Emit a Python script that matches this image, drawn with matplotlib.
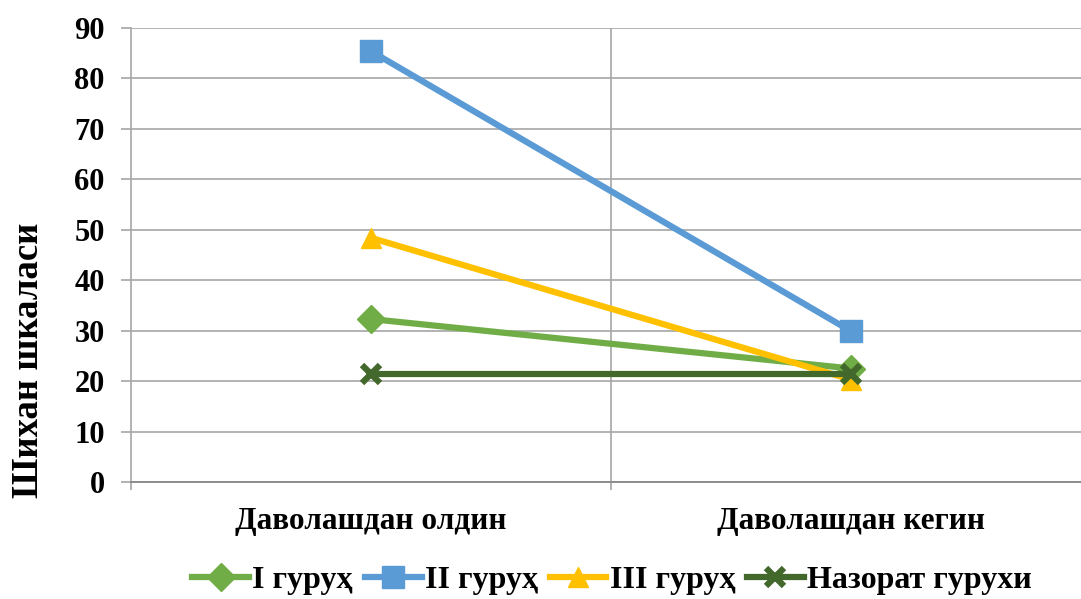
import matplotlib
matplotlib.use("Agg")
import matplotlib.pyplot as plt
from matplotlib.lines import Line2D

categories = ["Даволашдан олдин", "Даволашдан кегин"]
series_names = ["I гуруҳ", "II гуруҳ", "III гуруҳ", "Назорат гурухи"]
group1 = [32.3, 22.5]
group2 = [85.4, 29.9]
group3 = [48.4, 20.3]
control = [21.4, 21.4]
y_ticks = [0, 10, 20, 30, 40, 50, 60, 70, 80, 90]

colors = ["#70AD47", "#5B9BD5", "#FFC000", "#43682B"]
markers = ["D", "s", "^", "x"]
msizes = [14, 16.5, 14, 13]

plt.rcParams['font.family'] = ['Liberation Serif', 'DejaVu Serif']
plt.rcParams['font.weight'] = 'bold'

fig = plt.figure(figsize=(10.81, 5.99), dpi=100)
ax = fig.add_axes([131/1081, 1 - 482/599, 960/1081, 454/599])

xs = [0.5, 1.5]
data = [group1, group2, group3, control]
for vals, c, m, ms, name in zip(data, colors, markers, msizes, series_names):
    ax.plot(xs, vals, color=c, lw=4.5, marker=m, markersize=ms,
            markeredgewidth=4.5 if m == "x" else 1, markeredgecolor=c,
            markerfacecolor=c, label=name, solid_capstyle='round', zorder=3)

ax.set_xlim(0, 2)
ax.set_ylim(0, 90)
ax.set_yticks(y_ticks)
ax.set_yticklabels([str(v) for v in y_ticks], fontsize=22, fontweight='bold')
ax.set_xticks([0, 1, 2])
ax.set_xticklabels([])
ax.set_xticks(xs, minor=True)
ax.set_xticklabels(categories, minor=True, fontsize=22.5, fontweight='bold')
ax.tick_params(axis='x', which='minor', length=0, pad=18)
ax.tick_params(axis='x', which='major', length=6, color='#A6A6A6', width=1.2)
ax.tick_params(axis='y', length=7, pad=12, color='#A6A6A6', width=1.2)

ax.grid(axis='y', color='#A6A6A6', lw=1.2)
ax.axvline(1, color='#A6A6A6', lw=1.2, zorder=1)
ax.set_axisbelow(True)
for s in ['top', 'right']:
    ax.spines[s].set_visible(False)
ax.spines['left'].set_color('#A6A6A6')
ax.spines['bottom'].set_color('#8C8C8C')
ax.spines['left'].set_linewidth(1.2)
ax.spines['bottom'].set_linewidth(1.4)

fig.text(28.5/1081, 1 - 360/599, "Шихан шкаласи", rotation=90, ha='center', va='center',
         fontsize=26.5, fontweight='bold')

handles = [Line2D([0], [0], color=c, lw=4.5, marker=m, markersize=ms,
                  markeredgewidth=4.5 if m == "x" else 1, markeredgecolor=c, markerfacecolor=c)
           for c, m, ms in zip(colors, markers, msizes)]
fig.legend(handles, series_names, loc='center', bbox_to_anchor=(612/1081, 1 - 580/599),
           ncol=4, frameon=False, handlelength=1.78, handletextpad=0.1,
           columnspacing=0.37, prop={'weight': 'bold', 'size': 23})

fig.savefig("out.png", dpi=100)
